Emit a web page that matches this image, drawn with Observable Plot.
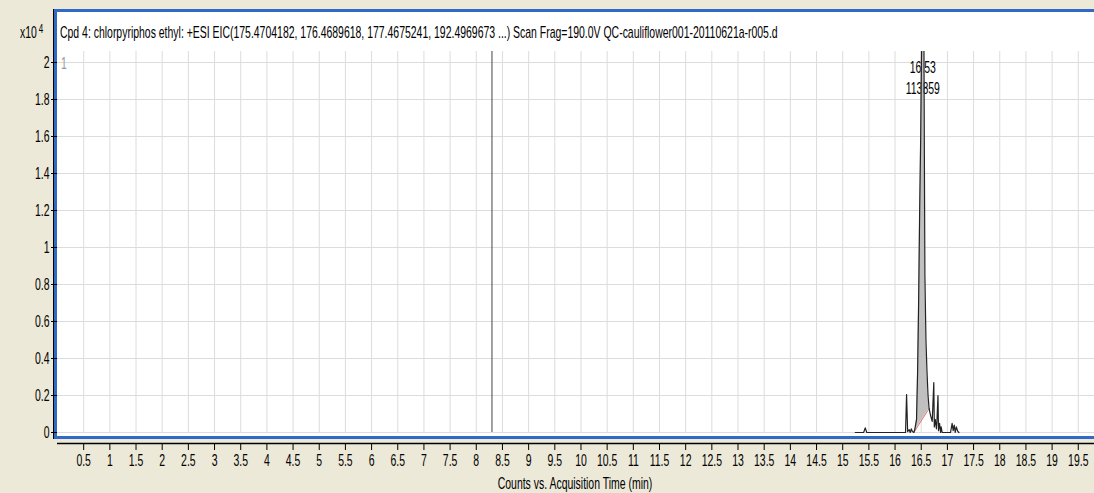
<!DOCTYPE html>
<html><head><meta charset="utf-8">
<script src="https://cdn.jsdelivr.net/npm/d3@7"></script>
<script src="https://cdn.jsdelivr.net/npm/@observablehq/plot@0.6"></script>
<style>
html,body{margin:0;padding:0;background:#ECE9D8;}
#wrap{position:relative;width:1094px;height:493px;overflow:hidden;font-family:"Liberation Sans",Arial,sans-serif;}
#axisline{position:absolute;left:53px;top:9px;width:1px;height:430px;background:#000;}
#panel{position:absolute;left:54px;top:9px;width:1040px;height:430px;box-sizing:border-box;background:#fff;border-top:3px solid #316AC5;border-left:3px solid #316AC5;border-bottom:3px solid #316AC5;}
#chart{position:absolute;left:0;top:0;}
.lbl{position:absolute;white-space:nowrap;font-size:17px;line-height:17px;color:#000;transform:scaleX(0.615);}
</style></head>
<body><div id="wrap">
<div id="axisline"></div><div id="panel"></div>
<div id="chart"></div>
<div class="lbl" id="title" style="left:60px;top:24px;transform-origin:0 50%;"></div>
<div class="lbl" id="ylab" style="left:20px;top:24px;transform-origin:0 50%;"></div>
<div class="lbl" id="one" style="left:61px;top:55px;color:#999;transform-origin:0 50%;"></div>
<div class="lbl" id="xlab" style="left:575px;top:475px;transform:translateX(-50%) scaleX(0.615);transform-origin:50% 50%;"></div>
</div>
<script>
// ---- data ----
const titleText = "Cpd 4: chlorpyriphos ethyl: +ESI EIC(175.4704182, 176.4689618, 177.4675241, 192.4969673 ...) Scan Frag=190.0V QC-cauliflower001-20110621a-r005.d";
const xLabelText = "Counts vs. Acquisition Time (min)";
const yUnitBase = "x10";
const yUnitExp = "4";
const traceNo = "1";

// acquisition time (min) and counts (x10^4)
const times = [15.24, 15.40, 15.43, 15.46, 16.20, 16.22, 16.24, 16.27, 16.29, 16.31, 16.33, 16.36, 16.38, 16.41, 16.43, 16.45, 16.47, 16.49, 16.51, 16.53, 16.55, 16.56, 16.57, 16.59, 16.61, 16.63, 16.65, 16.68, 16.71, 16.74, 16.75, 16.77, 16.79, 16.80, 16.82, 16.83, 16.85, 16.87, 16.88, 16.90, 17.06, 17.09, 17.11, 17.13, 17.15, 17.17, 17.20, 17.22];
const counts = [0, 0, 0.025, 0, 0, 0.205, 0.005, 0.015, 0, 0.02, 0.005, 0, 0.02, 0.07, 0.32, 0.7, 1.2, 1.6, 2.2, 2.6, 2.2, 1.5, 0.85, 0.5, 0.33, 0.2, 0.13, 0.09, 0.06, 0.27, 0.03, 0.07, 0.02, 0.06, 0.2, 0.01, 0.05, 0, 0.03, 0, 0, 0.05, 0.01, 0.04, 0, 0.03, 0.005, 0];

const xTicks = [0.5, 1, 1.5, 2, 2.5, 3, 3.5, 4, 4.5, 5, 5.5, 6, 6.5, 7, 7.5, 8, 8.5, 9, 9.5, 10, 10.5, 11, 11.5, 12, 12.5, 13, 13.5, 14, 14.5, 15, 15.5, 16, 16.5, 17, 17.5, 18, 18.5, 19, 19.5];
const yTicks = [0, 0.2, 0.4, 0.6, 0.8, 1, 1.2, 1.4, 1.6, 1.8, 2];

const markerTime = 8.3;
const peakTime = 16.53;
const peakArea = 113859;
const baseStartTime = 16.36, baseStartCount = 0;
const baseEndTime = 16.65, baseEndCount = 0.13;

const xDomain = [0, 19.81];
const yDomain = [-0.0595, 2.0595];

// ---- build ----
document.getElementById("title").textContent = titleText;
document.getElementById("xlab").textContent = xLabelText;
document.getElementById("ylab").innerHTML = yUnitBase + '<span style="font-size:13px;position:relative;top:-5px;margin-left:3px">' + yUnitExp + '</span>';
document.getElementById("one").textContent = traceNo;

const trace = times.map((t, i) => ({t, c: counts[i]}));
const baseAt = t => baseStartCount + (t - baseStartTime) * (baseEndCount - baseStartCount) / (baseEndTime - baseStartTime);
const peakPts = trace.filter(d => d.t >= baseStartTime && d.t <= baseEndTime).map(d => ({t: d.t, c: d.c, b: baseAt(d.t)}));
const baseLine = [{t: baseStartTime, c: baseStartCount}, {t: baseEndTime, c: baseEndCount}];

const svg = Plot.plot({
  width: 1094, height: 493,
  marginLeft: 57, marginRight: 0, marginTop: 51, marginBottom: 50,
  style: {background: "transparent", fontFamily: "'Liberation Sans', Arial, sans-serif", fontSize: "17px", color: "#000"},
  x: {domain: xDomain},
  y: {domain: yDomain},
  marks: [
    Plot.ruleX(xTicks, {y1: 0, y2: yDomain[1], stroke: "#DCDCDC", strokeWidth: 1}),
    Plot.ruleY(yTicks, {stroke: "#DCDCDC", strokeWidth: 1}),
    Plot.ruleX([markerTime], {y1: 0, y2: yDomain[1], stroke: "#444", strokeWidth: 1}),
    Plot.ruleY([yDomain[0]], {stroke: "#000", strokeWidth: 1.5}),
    Plot.axisX(xTicks, {anchor: "bottom", tickSize: 7, tickPadding: 3, tickFormat: d => String(d), fontSize: 17, label: null}),
    Plot.axisY(yTicks, {anchor: "left", tickSize: 6, tickPadding: 2, tickFormat: d => String(d), fontSize: 17, label: null}),
    Plot.text([{t: peakTime}], {x: "t", frameAnchor: "top", dy: 9, text: () => String(peakTime), fontSize: 17}),
    Plot.text([{t: peakTime}], {x: "t", frameAnchor: "top", dy: 30, text: () => String(peakArea), fontSize: 17}),
    Plot.areaY(peakPts, {x: "t", y1: "b", y2: "c", fill: "#C0C0C0", clip: true}),
    Plot.line(baseLine, {x: "t", y: "c", stroke: "#E07070", strokeWidth: 1}),
    Plot.line(trace, {x: "t", y: "c", stroke: "#222", strokeWidth: 1.2, clip: true})
  ]
});
svg.querySelectorAll("text").forEach(el => {
  const tr = el.getAttribute("transform");
  if (tr) el.setAttribute("transform", tr + " scale(0.615,1)");
});
document.getElementById("chart").appendChild(svg);
</script>
</body></html>
